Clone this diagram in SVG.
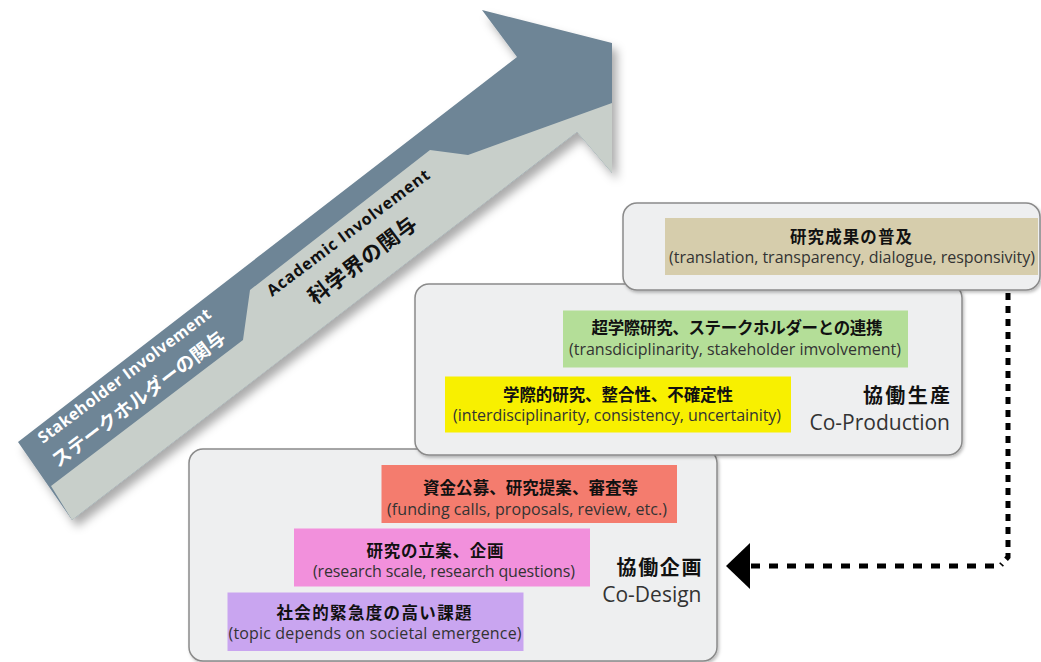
<svg xmlns="http://www.w3.org/2000/svg" width="1041" height="662" viewBox="0 0 1041 662">
<defs>
<filter id="arrowShadow" x="-10%" y="-10%" width="130%" height="130%">
<feDropShadow dx="5" dy="7" stdDeviation="5" flood-color="#000" flood-opacity="0.33"/>
</filter>
<filter id="boxShadow" x="-5%" y="-5%" width="110%" height="115%">
<feDropShadow dx="1.5" dy="2" stdDeviation="1.5" flood-color="#000" flood-opacity="0.25"/>
</filter>
<marker id="arrowHead" viewBox="0 0 24 46" refX="0" refY="23" markerWidth="24" markerHeight="46" markerUnits="userSpaceOnUse" orient="auto">
<path d="M0,0 L24,23 L0,46 Z" fill="#000"/>
</marker>
</defs>
<style>
.box{fill:#eeeff0;stroke:#8a8a8a;stroke-width:1.5}
.jp{font-family:"Noto Sans CJK JP","Noto Sans CJK SC",sans-serif;font-weight:700;font-size:16.5px;fill:#111;text-anchor:middle}
.en{font-family:"Open Sans","Noto Sans",sans-serif;font-size:16px;fill:#333;text-anchor:middle}
.tjp{font-family:"Noto Sans CJK JP","Noto Sans CJK SC",sans-serif;font-weight:700;font-size:20px;fill:#111;text-anchor:end}
.ten{font-family:"Open Sans","Noto Sans",sans-serif;font-size:21px;fill:#333;text-anchor:end}
.aen{font-family:"Open Sans","Noto Sans",sans-serif;font-weight:700;font-size:16px}
.ajp{font-family:"Noto Sans CJK JP","Noto Sans CJK SC",sans-serif;font-weight:700}
.dash{fill:none;stroke:#000;stroke-width:5}
</style>
<rect width="1041" height="662" fill="#fff"/>

<g id="arrow-involvement">
<g filter="url(#arrowShadow)">
<polygon points="18,442 517,57 482,10 612,43 612,173 577,132 72,520" fill="#6e8596"/>
</g>
<polygon points="51,486 243,340 250,290 430,150 468,155 612,103 612,173 577,132 72,520" fill="#c8cfca"/>
<text class="aen" fill="#fff" transform="translate(43,444) rotate(-37)" textLength="212">Stakeholder Involvement</text>
<text class="ajp" fill="#fff" font-size="19" transform="translate(58,468) rotate(-37)" textLength="212">ステークホルダーの関与</text>
<text class="aen" fill="#111" transform="translate(272,297) rotate(-37)" textLength="199">Academic Involvement</text>
<text class="ajp" fill="#111" font-size="21" transform="translate(315,305) rotate(-37)" textLength="130">科学界の関与</text>
</g>

<g id="co-design">
<rect class="box" filter="url(#boxShadow)" x="189" y="449" width="528" height="212" rx="14"/>
<rect x="381.5" y="465" width="295.5" height="58" fill="#f47c6e"/>
<text class="jp" x="530.5" y="494" textLength="215">資金公募、研究提案、審査等</text>
<text class="en" x="527" y="515" textLength="280">(funding calls, proposals, review, etc.)</text>
<rect x="294" y="528.5" width="296" height="58" fill="#f290dc"/>
<text class="jp" x="435" y="557" textLength="137">研究の立案、企画</text>
<text class="en" x="444" y="577" textLength="262">(research scale, research questions)</text>
<rect x="227.5" y="592.5" width="296" height="58.5" fill="#c9a5f0"/>
<text class="jp" x="374" y="619" textLength="195">社会的緊急度の高い課題</text>
<text class="en" x="375" y="639" textLength="293">(topic depends on societal emergence)</text>
<text class="tjp" x="701.5" y="574.5" textLength="85">協働企画</text>
<text class="ten" x="701.5" y="601.5">Co-Design</text>
</g>

<g id="co-production">
<rect class="box" filter="url(#boxShadow)" x="415" y="284" width="547" height="171" rx="14"/>
<rect x="563" y="310.5" width="345" height="57" fill="#b4de98"/>
<text class="jp" x="737" y="334" textLength="291">超学際研究、ステークホルダーとの連携</text>
<text class="en" x="735" y="355" textLength="332">(transdiciplinarity, stakeholder imvolvement)</text>
<rect x="445" y="376.5" width="346" height="56" fill="#f8f000"/>
<text class="jp" x="618" y="401" textLength="230">学際的研究、整合性、不確定性</text>
<text class="en" x="617" y="421" textLength="328">(interdisciplinarity, consistency, uncertainity)</text>
<text class="tjp" x="950" y="403" textLength="87">協働生産</text>
<text class="ten" x="950" y="430">Co-Production</text>
</g>

<g id="dissemination">
<rect class="box" filter="url(#boxShadow)" x="623" y="203" width="417" height="87" rx="14"/>
<rect x="665" y="218" width="373" height="57" fill="#d6cdac"/>
<text class="jp" x="851" y="243" textLength="122">研究成果の普及</text>
<text class="en" x="852" y="263" textLength="366">(translation, transparency, dialogue, responsivity)</text>
</g>

<g id="connectors">
<path class="dash" d="M1008,293 V557 L1001,565" stroke-dasharray="7 6"/>
<path class="dash" d="M994,566 H750" stroke-dasharray="9 9" marker-end="url(#arrowHead)"/>
</g>
</svg>
